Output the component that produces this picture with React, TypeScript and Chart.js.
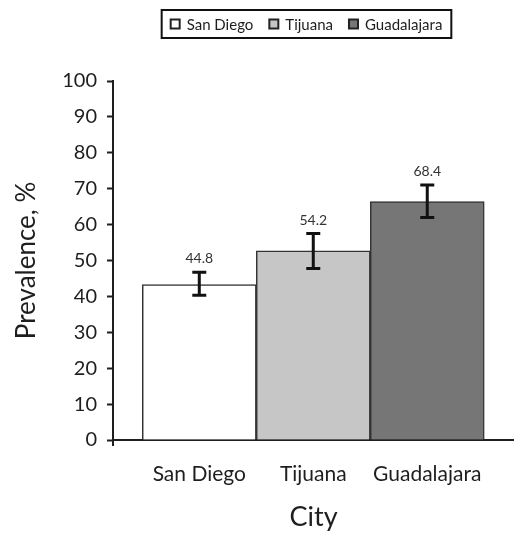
import React, { useEffect, useRef } from "react";
import { Chart, registerables } from "chart.js";

Chart.register(...registerables);

const cities = ["San Diego", "Tijuana", "Guadalajara"];
const prevalence = [43.3, 52.7, 66.4];
const ciLow = [40.3, 47.8, 62.0];
const ciHigh = [46.7, 57.5, 71.0];
const valueLabels = ["44.8", "54.2", "68.4"];
const barColors = ["#ffffff", "#c6c6c6", "#767676"];
const yTitle = "Prevalence, %";
const xTitle = "City";

const FONT = "Lato";
const INK = "#1e1e1e";

const errorBarPlugin = {
  id: "errorBars",
  afterDatasetsDraw(chart: any) {
    const { ctx } = chart;
    const xs = chart.scales.x;
    const ys = chart.scales.y;
    ctx.save();
    ctx.strokeStyle = "#111";
    ctx.lineWidth = 3;
    ctx.lineCap = "butt";
    prevalence.forEach((_, i) => {
      const x = xs.getPixelForValue(i);
      const top = ys.getPixelForValue(ciHigh[i]);
      const bot = ys.getPixelForValue(ciLow[i]);
      const cap = 7;
      ctx.beginPath();
      ctx.moveTo(x, top);
      ctx.lineTo(x, bot);
      ctx.moveTo(x - cap, top);
      ctx.lineTo(x + cap, top);
      ctx.moveTo(x - cap, bot);
      ctx.lineTo(x + cap, bot);
      ctx.stroke();
      ctx.fillStyle = "#333";
      ctx.font = `14px ${FONT}`;
      ctx.textAlign = "center";
      ctx.textBaseline = "alphabetic";
      ctx.fillText(valueLabels[i], x, top - 9);
    });
    // small extension of the y axis below the baseline
    const ca = chart.chartArea;
    ctx.strokeStyle = INK;
    ctx.lineWidth = 2;
    ctx.beginPath();
    ctx.moveTo(ca.left, ca.bottom);
    ctx.lineTo(ca.left, ca.bottom + 6);
    ctx.stroke();
    ctx.restore();
  },
};

const boxLegendPlugin = {
  id: "boxLegend",
  afterDraw(chart: any) {
    const { ctx } = chart;
    ctx.save();
    ctx.font = `15px ${FONT}`;
    const sq = 9;
    const gapText = 7;
    const gapItem = 16;
    const widths = cities.map((c) => ctx.measureText(c).width);
    const content =
      widths.reduce((a, w) => a + sq + gapText + w, 0) + gapItem * (cities.length - 1);
    const pad = 9;
    const boxW = content + pad * 2;
    const cx = 306.5;
    const boxLeft = cx - boxW / 2;
    const boxTop = 10;
    const boxH = 28;
    ctx.lineWidth = 2;
    ctx.strokeStyle = "#111";
    ctx.strokeRect(boxLeft, boxTop, boxW, boxH);
    let x = boxLeft + pad;
    const cy = boxTop + boxH / 2;
    cities.forEach((c, i) => {
      ctx.fillStyle = barColors[i];
      ctx.fillRect(x, cy - sq / 2, sq, sq);
      ctx.lineWidth = 2;
      ctx.strokeStyle = "#222";
      ctx.strokeRect(x, cy - sq / 2, sq, sq);
      x += sq + gapText;
      ctx.fillStyle = INK;
      ctx.textAlign = "left";
      ctx.textBaseline = "middle";
      ctx.fillText(c, x, cy + 1);
      x += widths[i] + gapItem;
    });
    ctx.restore();
  },
};

export default function App() {
  const ref = useRef<HTMLCanvasElement>(null);
  useEffect(() => {
    document.body.style.margin = "0";
    const canvas = ref.current!;
    const chart = new Chart(canvas, {
      type: "bar",
      data: {
        datasets: [
          {
            data: prevalence.map((v, i) => ({ x: i, y: v })),
            backgroundColor: barColors,
            borderColor: "#333",
            borderWidth: 1.5,
            barPercentage: 1,
            categoryPercentage: 1,
          },
        ],
      },
      options: {
        responsive: false,
        animation: false,
        events: [],
        layout: { padding: { top: 81, left: 0, right: 0, bottom: 0 } },
        plugins: {
          legend: { display: false },
          tooltip: { enabled: false },
        },
        scales: {
          x: {
            type: "linear",
            offset: false,
            min: -0.757,
            max: 2.761,
            afterBuildTicks: (scale: any) => {
              scale.ticks = cities.map((_, i) => ({ value: i }));
            },
            afterFit: (scale: any) => {
              scale.height = 94;
            },
            grid: { display: false, drawTicks: false, offset: false },
            border: { display: true, color: INK, width: 2 },
            ticks: {
              autoSkip: false,
              maxRotation: 0,
              padding: 22,
              color: INK,
              font: { family: FONT, size: 21 },
              callback: (v: any) => cities[v as number] ?? "",
            },
            title: {
              display: true,
              text: xTitle,
              color: INK,
              font: { family: FONT, size: 27 },
              padding: { top: 0, bottom: 1 },
            },
          },
          y: {
            min: 0,
            max: 100,
            afterFit: (scale: any) => {
              scale.width = 113;
            },
            grid: {
              display: true,
              drawOnChartArea: false,
              drawTicks: true,
              tickLength: 6,
              tickWidth: 2,
              tickColor: INK,
            },
            border: { display: true, color: INK, width: 2 },
            ticks: {
              stepSize: 10,
              padding: 10,
              color: INK,
              font: { family: FONT, size: 20 },
            },
            title: {
              display: true,
              text: yTitle,
              color: INK,
              font: { family: FONT, size: 26 },
              padding: { top: 11, bottom: 0 },
            },
          },
        },
      },
      plugins: [errorBarPlugin, boxLegendPlugin],
    });
    return () => chart.destroy();
  }, []);
  return (
    <div style={{ width: 514, height: 534 }}>
      <canvas ref={ref} width={514} height={534} style={{ display: "block" }} />
    </div>
  );
}
